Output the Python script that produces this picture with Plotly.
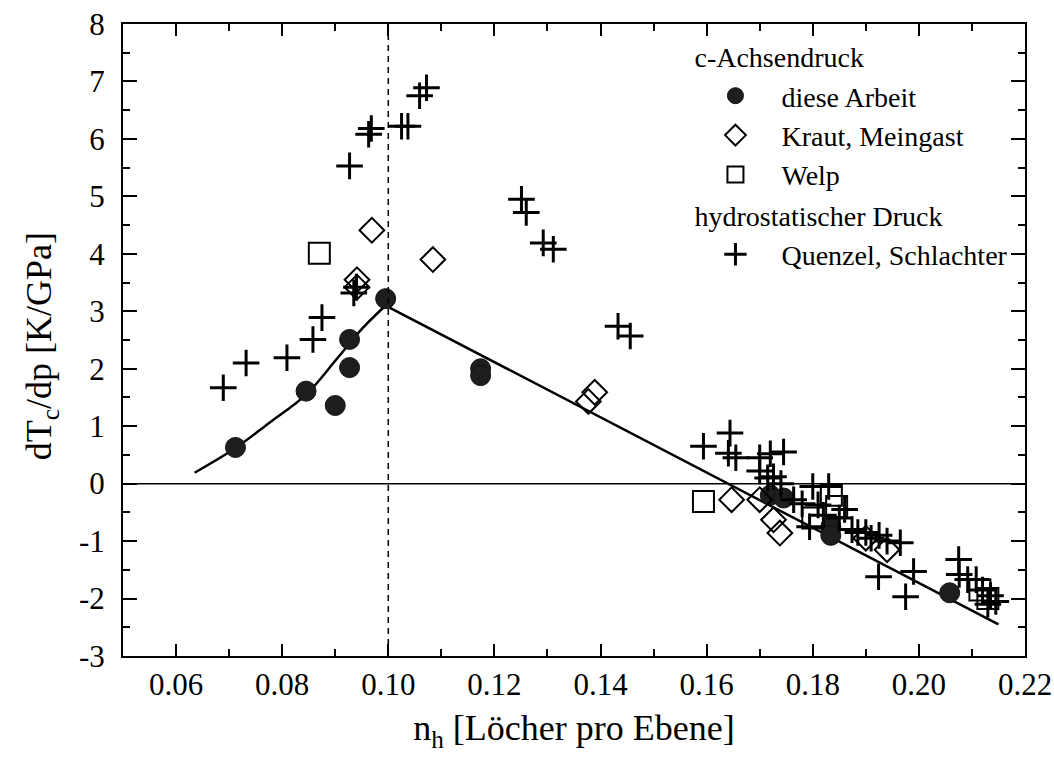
import plotly.graph_objects as go

# diese Arbeit (c-Achsendruck)
arbeit_x = [0.0712, 0.0845, 0.0900, 0.0927, 0.0927, 0.0995, 0.1174, 0.1174,
            0.1720, 0.1745, 0.1834, 0.1834, 0.2058]
arbeit_y = [0.63, 1.61, 1.36, 2.02, 2.51, 3.22, 2.00, 1.88,
            -0.20, -0.25, -0.75, -0.90, -1.90]

# Kraut, Meingast
kraut_x = [0.0969, 0.1084, 0.0941, 0.0941, 0.1377, 0.1389, 0.1647, 0.1700,
           0.1726, 0.1738, 0.1900, 0.1940]
kraut_y = [4.41, 3.90, 3.55, 3.42, 1.43, 1.59, -0.28, -0.28,
           -0.63, -0.86, -0.95, -1.15]

# Welp
welp_x = [0.0870, 0.1594, 0.1835, 0.1845, 0.1800, 0.2115, 0.2130]
welp_y = [4.01, -0.31, -0.20, -0.40, -0.60, -1.85, -2.00]

# Quenzel, Schlachter (hydrostatischer Druck)
quenzel_x = [0.0689, 0.0732, 0.0809, 0.0858, 0.0875, 0.0935, 0.0940, 0.0927,
             0.0963, 0.0968, 0.1025, 0.1037, 0.1059, 0.1072, 0.1251, 0.1260,
             0.1292, 0.1311, 0.1433, 0.1456,
             0.1594, 0.1644, 0.1641, 0.1655, 0.1700, 0.1720, 0.1745, 0.1700,
             0.1715, 0.1726, 0.1740, 0.1764, 0.1780, 0.1800, 0.1830, 0.1810,
             0.1820, 0.1794, 0.1850, 0.1860, 0.1874, 0.1885, 0.1900, 0.1910,
             0.1925, 0.1940, 0.1965, 0.1924, 0.1990, 0.1975, 0.2075, 0.2076,
             0.2092, 0.2108, 0.2120, 0.2135, 0.2145, 0.2130]
quenzel_y = [1.67, 2.10, 2.19, 2.51, 2.89, 3.32, 3.42, 5.53,
             6.08, 6.18, 6.22, 6.22, 6.75, 6.89, 4.95, 4.72,
             4.19, 4.08, 2.74, 2.57,
             0.65, 0.88, 0.53, 0.45, 0.45, 0.52, 0.55, 0.22,
             0.10, 0.12, 0.00, -0.28, -0.35, -0.05, -0.05, -0.37,
             -0.55, -0.75, -0.60, -0.45, -0.80, -0.85, -0.85, -0.95,
             -0.90, -1.00, -1.03, -1.62, -1.53, -1.97, -1.32, -1.58,
             -1.67, -1.67, -1.85, -1.95, -2.05, -2.10]

# fit curves (guide to the eye)
curve_x = [0.0635, 0.0712, 0.0776, 0.0845, 0.0902, 0.0952, 0.0995]
curve_y = [0.19, 0.62, 1.06, 1.55, 2.16, 2.71, 3.10]
line_x = [0.0995, 0.2150]
line_y = [3.10, -2.45]

x_ticks = [0.06, 0.08, 0.10, 0.12, 0.14, 0.16, 0.18, 0.20, 0.22]
y_ticks = [-3, -2, -1, 0, 1, 2, 3, 4, 5, 6, 7, 8]
y_ticktext = [str(v) for v in y_ticks]

FONT = "Liberation Serif, Times New Roman, serif"

fig = go.Figure()

fig.add_trace(go.Scatter(x=curve_x, y=curve_y, mode="lines",
                         line=dict(color="black", width=2.5, shape="spline", smoothing=1),
                         showlegend=False, hoverinfo="skip"))
fig.add_trace(go.Scatter(x=line_x, y=line_y, mode="lines",
                         line=dict(color="black", width=2.5),
                         showlegend=False, hoverinfo="skip"))

fig.add_trace(go.Scatter(x=arbeit_x, y=arbeit_y, mode="markers", name="diese Arbeit",
                         legendgroup="c", legendgrouptitle=dict(text="c-Achsendruck"),
                         marker=dict(symbol="circle", size=20, color="#1e1e1e",
                                     line=dict(color="#111", width=1))))
fig.add_trace(go.Scatter(x=kraut_x, y=kraut_y, mode="markers", name="Kraut, Meingast",
                         legendgroup="c",
                         marker=dict(symbol="diamond-open", size=19, color="black",
                                     line=dict(color="black", width=2))))
fig.add_trace(go.Scatter(x=welp_x, y=welp_y, mode="markers", name="Welp",
                         legendgroup="c",
                         marker=dict(symbol="square-open", size=21, color="black",
                                     line=dict(color="black", width=2))))
fig.add_trace(go.Scatter(x=quenzel_x, y=quenzel_y, mode="markers", name="Quenzel, Schlachter",
                         legendgroup="h", legendgrouptitle=dict(text="hydrostatischer Druck"),
                         marker=dict(symbol="cross-thin-open", size=19, color="black",
                                     line=dict(color="black", width=3))))

fig.add_hline(y=0, line=dict(color="black", width=1.5))
fig.add_vline(x=0.10, line=dict(color="black", width=1.5, dash="6px,5px"))

axis_common = dict(showline=True, linecolor="black", linewidth=2, mirror="ticks",
                   ticks="inside", tickcolor="black", tickwidth=2,
                   showgrid=False, zeroline=False,
                   tickfont=dict(family=FONT, size=31, color="black"))

fig.update_xaxes(range=[0.05, 0.22], tickmode="array", tickvals=x_ticks,
                 tickformat=".2f", ticklen=12,
                 minor=dict(dtick=0.01, ticks="inside", ticklen=7, tickwidth=2, tickcolor="black",
                            showgrid=False),
                 title=dict(text="n<sub>h</sub> [Löcher pro Ebene]",
                            font=dict(family=FONT, size=36, color="black"), standoff=14),
                 **axis_common)
fig.update_yaxes(range=[-3, 8], tickmode="array", tickvals=y_ticks, ticktext=y_ticktext,
                 ticklen=14, ticklabelstandoff=10,
                 minor=dict(dtick=0.5, ticks="inside", ticklen=7, tickwidth=2, tickcolor="black",
                            showgrid=False),
                 **axis_common)

fig.add_annotation(text="dT<sub>c</sub>/dp [K/GPa]", textangle=-90,
                   xref="paper", yref="paper", x=-0.09, y=0.49,
                   xanchor="center", yanchor="middle", showarrow=False,
                   font=dict(family=FONT, size=36, color="black"))

fig.update_layout(
    width=1054, height=763,
    margin=dict(l=123, r=29, t=24, b=107, autoexpand=False),
    plot_bgcolor="white", paper_bgcolor="white",
    font=dict(family=FONT, color="black"),
    legend=dict(x=0.628, y=0.988, xanchor="left", yanchor="top",
                bgcolor="rgba(0,0,0,0)", borderwidth=0,
                font=dict(family=FONT, size=28, color="black"),
                grouptitlefont=dict(family=FONT, size=28, color="black"),
                tracegroupgap=1, itemwidth=82),
)

fig.write_html("out.html")
